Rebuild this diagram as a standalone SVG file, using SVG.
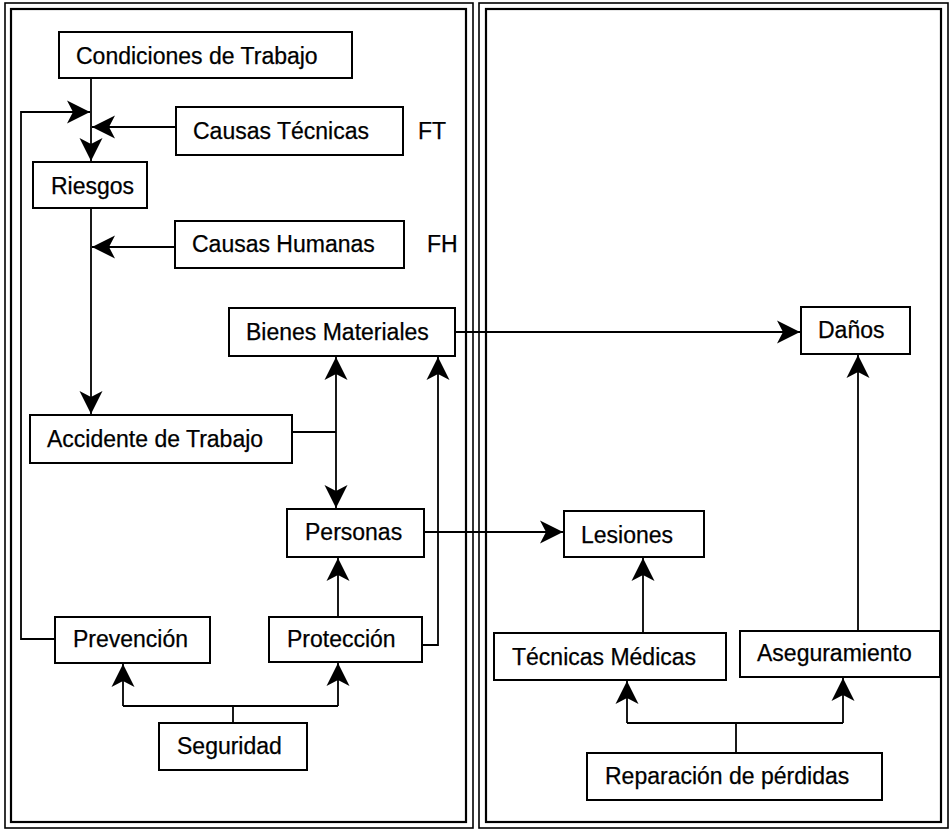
<svg xmlns="http://www.w3.org/2000/svg" width="950" height="831" viewBox="0 0 950 831">
  <style>
    .frame-o { fill: none; stroke: #000; stroke-width: 1.6; }
    .frame-i { fill: none; stroke: #000; stroke-width: 2.2; }
    .box { fill: #fff; stroke: #000; stroke-width: 2; }
    .lbl { font-family: "Liberation Sans", Arial, sans-serif; font-size: 23px; fill: #000; stroke: #000; stroke-width: 0.25; }
    .ln { fill: none; stroke: #000; stroke-width: 1.8; }
    .ar { marker-end: url(#arr); }
  </style>
  <defs>
    <!-- barbed arrowhead, tip at the path end -->
    <marker id="arr" viewBox="-24 -13 25 26" refX="0" refY="0" markerWidth="25" markerHeight="26" markerUnits="userSpaceOnUse" orient="auto-start-reverse">
      <path d="M0,0 L-23,-11.5 L-17,0 L-23,11.5 Z" fill="#000"/>
    </marker>
  </defs>

  <!-- panel frames (double rule) -->
  <g id="panel-left">
    <rect class="frame-o" x="5" y="3" width="468" height="825"/>
    <rect class="frame-i" x="11" y="9" width="455" height="813"/>
  </g>
  <g id="panel-right">
    <rect class="frame-o" x="479" y="3" width="469" height="825"/>
    <rect class="frame-i" x="486" y="9" width="455" height="813"/>
  </g>

  <!-- connectors -->
  <g id="connectors">
    <path class="ln ar" d="M91,78 V161"/>
    <path class="ln ar" d="M55,639 H21 V112 H90"/>
    <path class="ln ar" d="M176,127 H92"/>
    <path class="ln ar" d="M91,208 V414"/>
    <path class="ln ar" d="M175,247 H92"/>
    <path class="ln" d="M292,432 H336"/>
    <path class="ln" d="M336,357 V508" marker-start="url(#arr)" marker-end="url(#arr)"/>
    <path class="ln ar" d="M422,645 H438 V357"/>
    <path class="ln ar" d="M338,617 V558"/>
    <path class="ln" d="M233,723 V706"/>
    <path class="ln" d="M123,706 H338"/>
    <path class="ln ar" d="M123,706 V664"/>
    <path class="ln ar" d="M338,706 V663"/>
    <path class="ln ar" d="M455,332 H800"/>
    <path class="ln ar" d="M424,532 H563"/>
    <path class="ln ar" d="M643,633 V558"/>
    <path class="ln ar" d="M858,631 V355"/>
    <path class="ln" d="M736,753 V723"/>
    <path class="ln" d="M627,723 H843"/>
    <path class="ln ar" d="M627,723 V681"/>
    <path class="ln ar" d="M843,723 V678"/>
  </g>

  <!-- nodes -->
  <g id="condiciones">
    <rect class="box" x="59" y="32" width="293" height="46"/>
    <text class="lbl" x="76" y="64">Condiciones de Trabajo</text>
  </g>
  <g id="causas-tecnicas">
    <rect class="box" x="176" y="107" width="227" height="48"/>
    <text class="lbl" x="193" y="139">Causas Técnicas</text>
  </g>
  <g id="ft">
    <text class="lbl" x="418" y="139">FT</text>
  </g>
  <g id="riesgos">
    <rect class="box" x="33" y="162" width="114" height="46"/>
    <text class="lbl" x="51" y="194">Riesgos</text>
  </g>
  <g id="causas-humanas">
    <rect class="box" x="175" y="221" width="229" height="47"/>
    <text class="lbl" x="192" y="252">Causas Humanas</text>
  </g>
  <g id="fh">
    <text class="lbl" x="427" y="252">FH</text>
  </g>
  <g id="bienes">
    <rect class="box" x="229" y="308" width="226" height="48"/>
    <text class="lbl" x="246" y="340">Bienes Materiales</text>
  </g>
  <g id="accidente">
    <rect class="box" x="30" y="415" width="262" height="48"/>
    <text class="lbl" x="47" y="447">Accidente de Trabajo</text>
  </g>
  <g id="personas">
    <rect class="box" x="287" y="509" width="137" height="48"/>
    <text class="lbl" x="305" y="540">Personas</text>
  </g>
  <g id="prevencion">
    <rect class="box" x="55" y="617" width="155" height="46"/>
    <text class="lbl" x="73" y="647">Prevención</text>
  </g>
  <g id="proteccion">
    <rect class="box" x="269" y="617" width="153" height="45"/>
    <text class="lbl" x="287" y="647">Protección</text>
  </g>
  <g id="seguridad">
    <rect class="box" x="159" y="723" width="148" height="47"/>
    <text class="lbl" x="177" y="754">Seguridad</text>
  </g>
  <g id="danos">
    <rect class="box" x="801" y="307" width="109" height="47"/>
    <text class="lbl" x="818" y="338">Daños</text>
  </g>
  <g id="lesiones">
    <rect class="box" x="564" y="511" width="140" height="46"/>
    <text class="lbl" x="581" y="543">Lesiones</text>
  </g>
  <g id="tecnicas-medicas">
    <rect class="box" x="494" y="633" width="232" height="47"/>
    <text class="lbl" x="512" y="665">Técnicas Médicas</text>
  </g>
  <g id="aseguramiento">
    <rect class="box" x="740" y="631" width="200" height="46"/>
    <text class="lbl" x="757" y="661">Aseguramiento</text>
  </g>
  <g id="reparacion">
    <rect class="box" x="587" y="753" width="295" height="47"/>
    <text class="lbl" x="605" y="784">Reparación de pérdidas</text>
  </g>
</svg>
